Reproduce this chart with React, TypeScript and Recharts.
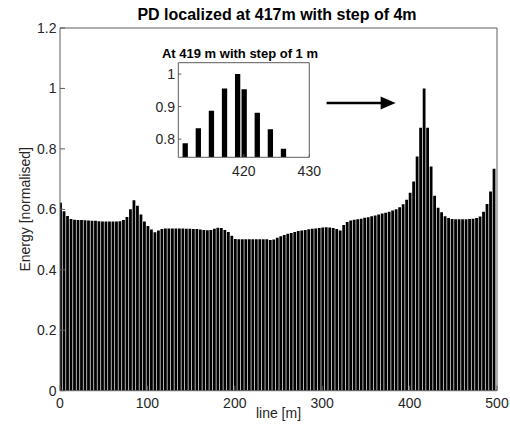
import React from 'react';
import { BarChart, Bar, XAxis, YAxis, ReferenceLine, Label } from 'recharts';

// Main chart: positions along the line [m] (step of 4 m) and normalised energy
const positions = [
  1, 5, 9, 13, 17, 21, 25, 29, 33, 37, 41, 45, 49, 53, 57, 61, 65, 69, 73, 77,
  81, 85, 89, 93, 97, 101, 105, 109, 113, 117, 121, 125, 129, 133, 137, 141, 145, 149, 153, 157,
  161, 165, 169, 173, 177, 181, 185, 189, 193, 197, 201, 205, 209, 213, 217, 221, 225, 229, 233, 237,
  241, 245, 249, 253, 257, 261, 265, 269, 273, 277, 281, 285, 289, 293, 297, 301, 305, 309, 313, 317,
  321, 325, 329, 333, 337, 341, 345, 349, 353, 357, 361, 365, 369, 373, 377, 381, 385, 389, 393, 397,
  401, 405, 409, 413, 417, 421, 425, 429, 433, 437, 441, 445, 449, 453, 457, 461, 465, 469, 473, 477,
  481, 485, 489, 493, 497,
];
const energy = [
  0.622, 0.594, 0.578, 0.568, 0.566, 0.565, 0.565, 0.564, 0.563, 0.562,
  0.562, 0.561, 0.560, 0.560, 0.560, 0.560, 0.560, 0.561, 0.565, 0.575,
  0.600, 0.630, 0.612, 0.583, 0.560, 0.545, 0.533, 0.524, 0.530, 0.535,
  0.537, 0.537, 0.537, 0.537, 0.537, 0.537, 0.536, 0.536, 0.535, 0.535,
  0.533, 0.532, 0.531, 0.532, 0.536, 0.539, 0.538, 0.532, 0.525, 0.513,
  0.502, 0.501, 0.501, 0.501, 0.501, 0.501, 0.501, 0.501, 0.501, 0.501,
  0.499, 0.500, 0.506, 0.511, 0.515, 0.519, 0.522, 0.525, 0.528, 0.530,
  0.532, 0.534, 0.536, 0.537, 0.538, 0.540, 0.541, 0.540, 0.538, 0.535,
  0.530, 0.548, 0.558, 0.563, 0.566, 0.567, 0.569, 0.572, 0.574, 0.577,
  0.580, 0.583, 0.586, 0.589, 0.592, 0.596, 0.600, 0.607, 0.617, 0.632,
  0.655, 0.692, 0.775, 0.870, 1.000, 0.870, 0.742, 0.645, 0.605, 0.590,
  0.577, 0.571, 0.568, 0.567, 0.567, 0.567, 0.567, 0.568, 0.569, 0.571,
  0.576, 0.592, 0.618, 0.659, 0.734,
];
const mainXTicks = [0, 100, 200, 300, 400, 500];
const mainYTicks = [0, 0.2, 0.4, 0.6, 0.8, 1, 1.2];

// Inset: step of 1 m around 419 m
const insetPositions = [411, 413, 415, 417, 419, 420, 422, 424, 426];
const insetEnergy = [0.787, 0.833, 0.887, 0.956, 1.0, 0.953, 0.881, 0.83, 0.77];
const insetXTicks = [420, 430];
const insetYTicks = [0.8, 0.9, 1];

// Arrow annotation (data coordinates)
const arrowFromX = 305;
const arrowToX = 384;
const arrowY = 0.952;

const mainTitle = 'PD localized at 417m with step of 4m';
const insetTitle = 'At 419 m with step of 1 m';
const xLabel = 'line [m]';
const yLabel = 'Energy [normalised]';

const FONT = '"Liberation Sans", Arial, Helvetica, sans-serif';
const AXIS = '#5c5c5c';
const TXT = '#262626';
const tickStyle = { fontSize: 14, fill: TXT, fontFamily: FONT };

const Arrow = (props: any) => {
  const { x1, y1, x2, y2 } = props;
  const head = 15;
  const half = 6.5;
  return (
    <g>
      <line x1={x1} y1={y1} x2={x2 - head + 1} y2={y2} stroke="#000" strokeWidth={2.6} />
      <polygon points={`${x2},${y2} ${x2 - head},${y2 - half} ${x2 - head},${y2 + half}`} fill="#000" />
    </g>
  );
};

export default function App() {
  const mainData = positions.map((m, i) => ({ m, v: energy[i] }));
  const insetData = insetPositions.map((m, i) => ({ m, v: insetEnergy[i] }));
  return (
    <div style={{ position: 'absolute', left: 0, top: 0, width: 510, height: 430, background: '#fff', fontFamily: FONT }}>
      <div style={{ position: 'absolute', left: 0, top: 0 }}>
        <BarChart width={510} height={430} data={mainData} margin={{ top: 0, right: 0, bottom: 0, left: 0 }} style={{ fontFamily: FONT }}>
          <XAxis
            dataKey="m" type="number" domain={[0, 500]} ticks={mainXTicks} interval={0}
            height={39.3} tickSize={-5} tickMargin={12.3} allowDataOverflow
            axisLine={{ stroke: AXIS }} tickLine={{ stroke: AXIS }} tick={tickStyle}
          >
            <Label value={xLabel} position="insideBottom" offset={12} style={{ fontSize: 14, fill: TXT, fontFamily: FONT }} />
          </XAxis>
          <XAxis
            xAxisId="top" orientation="top" type="number" domain={[0, 500]} ticks={mainXTicks} interval={0}
            height={28} tickSize={-5} tick={false} allowDataOverflow
            axisLine={{ stroke: AXIS }} tickLine={{ stroke: AXIS }}
          />
          <YAxis
            type="number" domain={[0, 1.2]} ticks={mainYTicks} interval={0} width={60}
            tickSize={-5} tickMargin={8.5} allowDataOverflow
            axisLine={{ stroke: AXIS }} tickLine={{ stroke: AXIS }} tick={tickStyle}
          >
            <Label value={yLabel} angle={-90} position="insideLeft" offset={25} style={{ fontSize: 14, fill: TXT, fontFamily: FONT, textAnchor: 'middle' }} />
          </YAxis>
          <YAxis
            yAxisId="right" orientation="right" type="number" domain={[0, 1.2]} ticks={mainYTicks} interval={0}
            width={13} tickSize={-5} tick={false} allowDataOverflow
            axisLine={{ stroke: AXIS }} tickLine={{ stroke: AXIS }}
          />
          <Bar dataKey="v" fill="#000" barSize={2.8} isAnimationActive={false} />
          <ReferenceLine
            segment={[{ x: arrowFromX, y: arrowY }, { x: arrowToX, y: arrowY }]}
            shape={Arrow}
            ifOverflow="visible"
          />
        </BarChart>
      </div>
      <div style={{ position: 'absolute', left: 0, top: 0, pointerEvents: 'none' }}>
        <BarChart width={510} height={430} data={insetData} margin={{ top: 0, right: 0, bottom: 0, left: 0 }} style={{ fontFamily: FONT }}>
          <XAxis
            dataKey="m" type="number" domain={[410, 430]} ticks={insetXTicks} interval={0}
            height={272.7} tickSize={-3} tickMargin={11.7} allowDataOverflow
            axisLine={{ stroke: AXIS }} tickLine={{ stroke: AXIS }} tick={tickStyle}
          />
          <XAxis
            xAxisId="top" orientation="top" type="number" domain={[410, 430]} ticks={insetXTicks} interval={0}
            height={62.7} tickSize={-3} tick={false} allowDataOverflow
            axisLine={{ stroke: AXIS }} tickLine={{ stroke: AXIS }}
          />
          <YAxis
            type="number" domain={[0.744, 1.035]} ticks={insetYTicks} interval={0} width={178.3}
            tickSize={-3} tickMargin={6.3} allowDataOverflow
            axisLine={{ stroke: AXIS }} tickLine={{ stroke: AXIS }} tick={tickStyle}
          />
          <YAxis
            yAxisId="right" orientation="right" type="number" domain={[0.744, 1.035]} ticks={insetYTicks} interval={0}
            width={200.7} tickSize={-3} tick={false} allowDataOverflow
            axisLine={{ stroke: AXIS }} tickLine={{ stroke: AXIS }}
          />
          <Bar dataKey="v" fill="#000" barSize={5.3} isAnimationActive={false} />
        </BarChart>
      </div>
      <svg width={510} height={430} style={{ position: 'absolute', left: 0, top: 0, pointerEvents: 'none' }}>
        <text x={277} y={20.3} textAnchor="middle" fontFamily={FONT} fontWeight="bold" fontSize={16} fill="#000">{mainTitle}</text>
        <text x={240} y={57.5} textAnchor="middle" fontFamily={FONT} fontWeight="bold" fontSize={13} fill="#000">{insetTitle}</text>
      </svg>
    </div>
  );
}
